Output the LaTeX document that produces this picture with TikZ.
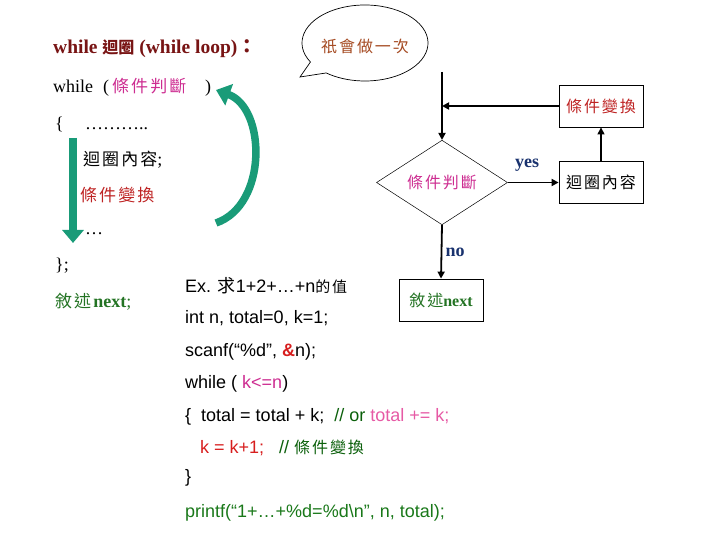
\documentclass[tikz,border=0pt]{standalone}
\usepackage{fontspec}
\setmainfont{Liberation Serif}
\newfontfamily\cjk[LetterSpace=12]{Noto Sans CJK TC}
\newfontfamily\cjkn{Noto Sans CJK TC}
\newfontfamily\arial{Liberation Sans}
\usetikzlibrary{shapes.geometric,arrows.meta}
\definecolor{titlered}{RGB}{120,20,20}
\definecolor{brownc}{RGB}{165,75,35}
\definecolor{magc}{RGB}{205,45,145}
\definecolor{chgred}{RGB}{190,35,35}
\definecolor{greenc}{RGB}{35,115,35}
\definecolor{bluec}{RGB}{25,50,110}
\definecolor{codegreen}{RGB}{25,120,25}
\definecolor{cmtgreen}{RGB}{10,95,10}
\definecolor{pinkc}{RGB}{230,90,165}
\definecolor{redc}{RGB}{215,30,30}
\definecolor{teal}{RGB}{25,155,120}
\begin{document}
\begin{tikzpicture}[x=1pt,y=-1pt,
  txt/.style={anchor=base west, inner sep=0, font=\fontsize{18}{20}\selectfont},
  code/.style={anchor=base west, inner sep=0, font=\arial\fontsize{18}{20}\selectfont},
  box/.style={draw, line width=0.8pt, minimum width=84pt, minimum height=42pt, inner sep=0, font=\cjk\fontsize{16}{18}\selectfont},
  flow/.style={line width=1.8pt, -{Triangle[length=7pt,width=7pt]}},
  thinflow/.style={line width=1.2pt, -{Triangle[length=7pt,width=7pt]}},
  lbl/.style={inner sep=0, font=\bfseries\fontsize{18}{20}\selectfont, text=bluec},
  garrow/.style={draw=teal, line width=8pt}
]
\useasboundingbox (0,0) rectangle (720,540);

% ---------- left text ----------
\node[txt, text=titlered, font=\fontsize{19.5}{22}\selectfont] (title) at (53,54) {\bfseries while {\cjkn\bfseries\fontsize{16}{18}\selectfont 迴圈} (while loop){\cjkn ：}};
\node[txt] (w1) at (53,93) {while};
\node[txt] (p1) at (103,93) {(};
\node[txt, text=magc] (cond1) at (112,93) {\cjk\fontsize{17}{18}\selectfont 條件判斷};
\node[txt] (p2) at (205,93) {)};
\node[txt] (br1) at (55,130) {\{};
\node[txt] (dots) at (85,130) {………..};
\node[txt] (body1) at (83,166) {{\cjk\fontsize{17}{18}\selectfont 迴圈內容};};
\node[txt, text=chgred] (chg1) at (80,202) {\cjk\fontsize{17}{18}\selectfont 條件變換};
\node[txt] (dots2) at (85,235) {…};
\node[txt] (br2) at (55,270) {\};};
\node[txt, text=greenc] (next1) at (55,307) {{\cjk\fontsize{17}{18}\selectfont 敘述}\textbf{next};};

% ---------- green arrows ----------
\coordinate (ga1) at (73,138);
\coordinate (ga2) at (73,243);
\draw[garrow, -{Triangle[length=13pt,width=21pt]}] (ga1) -- (ga2);
\coordinate (ca1) at (216,223);
\coordinate (ca2) at (216,90);
\draw[garrow, line width=7.5pt, -{Triangle[length=14pt,width=22pt]}] (ca1) .. controls (268,205) and (266,108) .. (ca2);

% ---------- bubble ----------
\coordinate (bc) at (365,43);
\coordinate (tip) at (300,77);
\draw[line width=0.7pt] (bc) ++(150:63 and 38) arc[start angle=150, end angle=488, x radius=63, y radius=38] -- (tip) -- cycle;
\node[inner sep=0, text=brownc, font=\cjk\fontsize{16}{18}\selectfont] (btxt) at (365,46) {祇會做一次};

% ---------- flowchart ----------
\node[box, text=chgred] (chg) at (601,106) {條件變換};
\node[box] (body) at (601,182.5) {迴圈內容};
\node[diamond, draw, line width=0.5pt, minimum width=131pt, minimum height=78pt, inner sep=0, text=magc, font=\cjk\fontsize{16}{18}\selectfont] (cond) at (442,182.5) {條件判斷};
\node[box, text=greenc] (next) at (441,300) {敘述{\rmfamily\bfseries next}};
\coordinate (top) at (442,72);
\coordinate (j) at (442,106);
\draw[flow] (top) -- (cond.north);
\draw[flow] (chg.west) -- (j);
\draw[flow] (cond.east) -- (body.west);
\draw[thinflow] (body.north) -- (chg.south);
\draw[flow] (cond.south) -- (next.north);
\node[lbl] (yes) at (527,165) {yes};
\node[lbl] (no) at (455,252) {no};

% ---------- code ----------
\node[code] (c1) at (185,292) {Ex. {\cjkn 求}1+2+…+n{\cjk\fontsize{15}{18}\selectfont 的值}};
\node[code] (c2) at (185,323) {int n, total=0, k=1;};
\node[code] (c3) at (185,356) {scanf(“\%d”, {\color{redc}\bfseries\&}n);};
\node[code] (c4) at (185,388) {while ( {\color{magc}k<=n})};
\node[code] (c5) at (185,421) {\{\ \ total = total + k;\ \ {\color{cmtgreen}// or} {\color{pinkc}total += k;}};
\node[code] (c6) at (200,453) {{\color{redc}k = k+1;}\ \ \ {\color{cmtgreen}// {\cjk\fontsize{16}{18}\selectfont 條件變換}}};
\node[code] (c7) at (185,482) {\}};
\node[code, text=codegreen] (c8) at (185,517) {printf(“1+…+\%d=\%d\textbackslash n”, n, total);};
\end{tikzpicture}
\end{document}
